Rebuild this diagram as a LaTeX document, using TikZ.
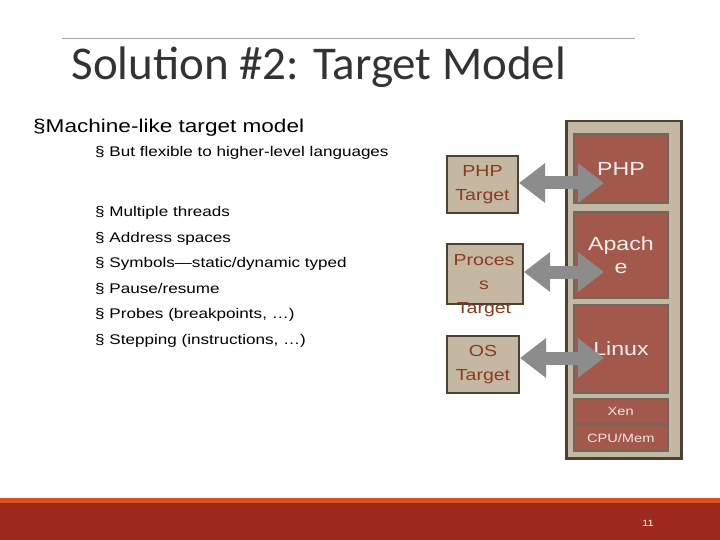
\documentclass[tikz,border=0pt]{standalone}
\usepackage{fontspec}
\setmainfont{Liberation Sans}[FakeStretch=1.22]
\newfontfamily\titlefont{Carlito}
\usetikzlibrary{arrows.meta}
\definecolor{tan}{HTML}{C4B8A2}
\definecolor{darkline}{HTML}{4A4234}
\definecolor{brick}{HTML}{A2584A}
\definecolor{rust}{HTML}{8C3A1E}
\definecolor{barred}{HTML}{9C2B1E}
\definecolor{barorange}{HTML}{D9531E}
\begin{document}
\begin{tikzpicture}[x=1pt,y=-1pt,
layerbox/.style={rectangle, draw=darkline!80, fill=brick, line width=2pt, text=white!90!brick, font=\fontsize{19}{23}\selectfont, align=center, inner sep=0pt},
smallbox/.style={rectangle, draw=darkline!80, fill=brick, line width=1.5pt, text=white!85!brick, font=\fontsize{12}{13}\selectfont, inner sep=0pt},
targetbox/.style={rectangle, draw=darkline, fill=tan, line width=2pt, text=rust, font=\fontsize{16}{24}\selectfont, align=center, inner sep=0pt},
link/.style={{Triangle[length=26pt,width=38pt]}-{Triangle[length=26pt,width=38pt]}, line width=13pt, draw=gray!90},
bulletA/.style={anchor=west, font=\fontsize{18.5}{20}\selectfont},
bulletB/.style={anchor=west, font=\fontsize{14}{17}\selectfont},
]
\useasboundingbox (0,0) rectangle (720,540);
\fill[white] (0,0) rectangle (720,540);

%Title
\draw[gray!70, line width=0.6pt] (62,38) -- (635,38);
\node[anchor=west, font=\titlefont\fontsize{47}{50}\selectfont, text=black!80] (title) at (68,67) {Solution \#2: Target Model};

%Bullets
\node[bulletA, inner sep=0pt] (b0) at (33,128) {\S Machine-like target model};
\node[bulletB, inner sep=0pt] (b1) at (95,153) {\S\ But flexible to higher-level languages};
\foreach \i/\txt in {0/{Multiple threads}, 1/{Address spaces}, 2/{Symbols---static/dynamic typed}, 3/{Pause/resume}, 4/{Probes (breakpoints, \dots)}, 5/{Stepping (instructions, \dots)}}
  \node[bulletB, inner sep=0pt] (c\i) at (95,213+25.5*\i) {\S\ \txt};

%Stack
\node[rectangle, draw=darkline, fill=tan, line width=2.5pt, minimum width=115pt, minimum height=337pt, anchor=north west, inner sep=0pt] (stack) at (565,120) {};
\node[layerbox, minimum width=94pt, minimum height=69pt, anchor=north west] (php) at (573,133) {PHP};
\node[layerbox, minimum width=94pt, minimum height=86pt, anchor=north west] (apache) at (573,211) {Apach\\e};
\node[layerbox, minimum width=94pt, minimum height=88pt, anchor=north west] (linux) at (573,304) {Linux};
\node[smallbox, minimum width=94pt, minimum height=25pt, anchor=north west] (xen) at (573,398) {Xen};
\node[smallbox, minimum width=94pt, minimum height=26pt, anchor=north west] (cpu) at (573,424) {CPU/Mem};

%Targets
\node[targetbox, minimum width=71pt, minimum height=57pt, anchor=north west] (phpt) at (446,155) {PHP\\Target};
\node[targetbox, minimum width=76pt, minimum height=60pt, anchor=north west] (proct) at (446,243) {};
\node[text=rust, font=\fontsize{16}{24}\selectfont, align=center] (proclbl) at (484,286) {Proces\\s\\Target};
\node[targetbox, minimum width=72pt, minimum height=57pt, anchor=north west] (ost) at (446,335) {OS\\Target};

%Arrows
\coordinate (phpin) at (604,183);
\coordinate (apin) at (604,272);
\coordinate (lxin) at (604,358);
\draw[link] (phpt.east |- phpin) -- (phpin);
\draw[link] (proct.east |- apin) -- (apin);
\draw[link] (ost.east |- lxin) -- (lxin);

%Footer
\fill[barorange] (0,498) rectangle (720,503);
\fill[barred] (0,503) rectangle (720,540);
\node[text=white, font=\fontsize{9}{10}\selectfont] (page) at (648,523) {11};
\end{tikzpicture}
\end{document}
